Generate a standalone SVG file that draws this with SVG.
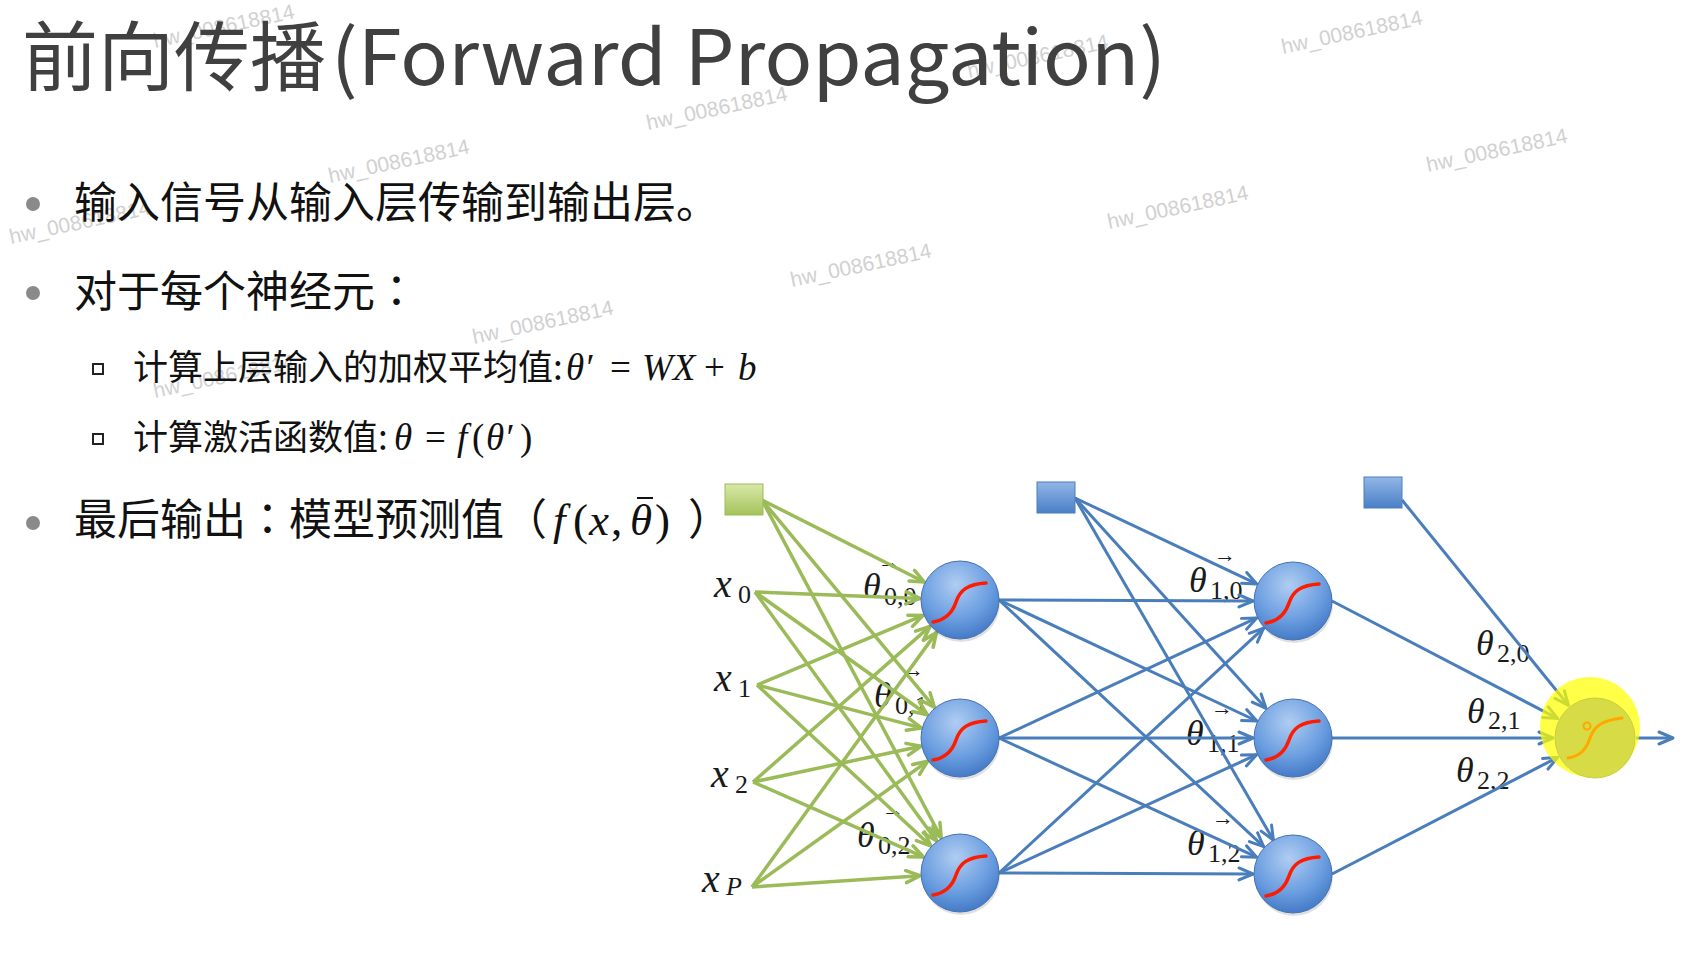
<svg xmlns="http://www.w3.org/2000/svg" width="1701" height="955" viewBox="0 0 1701 955">
<defs>
<style>
.title{font-family:"Noto Sans CJK SC","Noto Sans",sans-serif;font-size:76px;fill:#404040}
.t1{font-family:"Noto Sans CJK SC",sans-serif;font-size:43px;fill:#111}
.t2{font-family:"Noto Sans CJK SC",sans-serif;font-size:35px;fill:#111}
.col{font-family:"Noto Sans CJK TC",sans-serif}
.m{font-family:"Liberation Serif",serif;font-style:italic}
.r{font-family:"Liberation Serif",serif;font-style:normal}
.wm{font-family:"Liberation Sans",sans-serif;font-size:21px;fill:#c9c9c9;opacity:.85}
.lab{font-family:"Liberation Serif",serif;fill:#1a1a1a}
.th{font-style:italic;font-size:36px}
.xl{font-style:italic;font-size:40px}
.sub{font-size:26px}
.vec{font-size:22px}
.g{stroke:#9bbb59;stroke-width:3.5;fill:none;marker-end:url(#ahg)}
.b{stroke:#4a7ebb;stroke-width:3;fill:none;marker-end:url(#ahb)}
.neu{fill:url(#ng);stroke:#4472b0;stroke-width:1}
.sh{fill:#000;opacity:.12}
.sig{fill:none;stroke:#ff1a00;stroke-width:3.5;stroke-linecap:round}
.dot{fill:#8a8a8a}
.sq{fill:none;stroke:#222;stroke-width:2}
</style>
<radialGradient id="ng" cx="45%" cy="30%" r="75%">
<stop offset="0" stop-color="#b0cdf2"/>
<stop offset="0.6" stop-color="#6a9de0"/>
<stop offset="1" stop-color="#3d74c2"/>
</radialGradient>
<linearGradient id="gg" x1="0" y1="0" x2="0" y2="1">
<stop offset="0" stop-color="#d9e8a8"/>
<stop offset="1" stop-color="#a4c35a"/>
</linearGradient>
<linearGradient id="bg" x1="0" y1="0" x2="0" y2="1">
<stop offset="0" stop-color="#93b6e6"/>
<stop offset="1" stop-color="#4a7fc6"/>
</linearGradient>
<marker id="ahg" markerUnits="userSpaceOnUse" viewBox="0 0 18 16" refX="16" refY="8" markerWidth="18" markerHeight="16" orient="auto">
<path d="M2,2 L16,8 L2,14" fill="none" stroke="#9bbb59" stroke-width="3.5" stroke-linecap="round" stroke-linejoin="round"/>
</marker>
<marker id="ahb" markerUnits="userSpaceOnUse" viewBox="0 0 18 16" refX="16" refY="8" markerWidth="18" markerHeight="16" orient="auto">
<path d="M2,2 L16,8 L2,14" fill="none" stroke="#4a7ebb" stroke-width="3" stroke-linecap="round" stroke-linejoin="round"/>
</marker>
</defs>
<rect width="1701" height="955" fill="#fff"/>

<g id="watermarks">
<text class="wm" transform="translate(155,48) rotate(-12)">hw_008618814</text>
<text class="wm" transform="translate(648,130) rotate(-12)">hw_008618814</text>
<text class="wm" transform="translate(969,78) rotate(-12)">hw_008618814</text>
<text class="wm" transform="translate(1283,54) rotate(-12)">hw_008618814</text>
<text class="wm" transform="translate(1428,172) rotate(-12)">hw_008618814</text>
<text class="wm" transform="translate(330,183) rotate(-12)">hw_008618814</text>
<text class="wm" transform="translate(11,244) rotate(-12)">hw_008618814</text>
<text class="wm" transform="translate(1109,229) rotate(-12)">hw_008618814</text>
<text class="wm" transform="translate(792,287) rotate(-12)">hw_008618814</text>
<text class="wm" transform="translate(474,344) rotate(-12)">hw_008618814</text>
<text class="wm" transform="translate(155,398) rotate(-12)">hw_008618814</text>
</g>

<g id="title">
<text class="title" x="22" y="85">前向传播</text>
<text class="title" x="331" y="85" textLength="835" lengthAdjust="spacingAndGlyphs">(Forward Propagation)</text>
</g>

<g id="bullets">
<circle class="dot" cx="33" cy="204" r="7"/>
<text class="t1" x="74" y="218">输入信号从输入层传输到输出层。</text>
<circle class="dot" cx="33" cy="293" r="7"/>
<text class="t1" x="74" y="307">对于每个神经元<tspan class="col">：</tspan></text>
<rect class="sq" x="93" y="364" width="10" height="10"/>
<text class="t2" x="133" y="380">计算上层输入的加权平均值:<tspan class="m" x="566" font-size="37">θ′</tspan><tspan class="r" x="610" font-size="37">=</tspan><tspan class="m" x="642" font-size="37">WX</tspan><tspan class="r" x="704" font-size="37">+</tspan><tspan class="m" x="738" font-size="37">b</tspan></text>
<rect class="sq" x="93" y="434" width="10" height="10"/>
<text class="t2" x="133" y="450">计算激活函数值:<tspan class="m" x="394" font-size="37">θ</tspan><tspan class="r" x="425" font-size="37">=</tspan><tspan class="m" x="457" font-size="37">f</tspan><tspan class="r" x="472" font-size="37">(</tspan><tspan class="m" x="486" font-size="37">θ′</tspan><tspan class="r" x="520" font-size="37">)</tspan></text>
<circle class="dot" cx="33" cy="523" r="7"/>
<text class="t1" x="74" y="535">最后输出<tspan class="col">：</tspan>模型预测值（<tspan class="m" x="553" font-size="45">f</tspan><tspan class="r" x="573" font-size="45">(</tspan><tspan class="m" x="589" font-size="45">x</tspan><tspan class="r" x="611" font-size="45">,</tspan><tspan class="m" x="630" font-size="45">θ</tspan><tspan class="r" x="655" font-size="45">)</tspan><tspan x="688">）</tspan></text>
<line x1="637" y1="498" x2="653" y2="498" stroke="#111" stroke-width="2"/>
</g>

<g id="labels" class="lab">
<text class="xl m" x="714" y="597">x</text><text class="sub" x="738" y="603">0</text>
<text class="xl m" x="714" y="691">x</text><text class="sub" x="738" y="697">1</text>
<text class="xl m" x="711" y="787">x</text><text class="sub" x="735" y="793">2</text>
<text class="xl m" x="702" y="892">x</text><text class="sub m" x="726" y="895">P</text>
<text class="th" x="863" y="598">θ</text><text class="sub" x="884" y="605">0,0</text><text class="vec" x="878" y="569">→</text>
<text class="th" x="874" y="707">θ</text><text class="sub" x="895" y="714">0,1</text><text class="vec" x="902" y="677">→</text>
<text class="th" x="857" y="847">θ</text><text class="sub" x="878" y="854">0,2</text><text class="vec" x="882" y="817">→</text>
<text class="th" x="1189" y="592">θ</text><text class="sub" x="1210" y="599">1,0</text><text class="vec" x="1214" y="562">→</text>
<text class="th" x="1186" y="745">θ</text><text class="sub" x="1207" y="752">1,1</text><text class="vec" x="1211" y="715">→</text>
<text class="th" x="1187" y="855">θ</text><text class="sub" x="1208" y="862">1,2</text><text class="vec" x="1212" y="825">→</text>
<text class="th" x="1476" y="655">θ</text><text class="sub" x="1497" y="662">2,0</text>
<text class="th" x="1467" y="723">θ</text><text class="sub" x="1488" y="729">2,1</text>
<text class="th" x="1456" y="782">θ</text><text class="sub" x="1477" y="789">2,2</text>
</g>

<g id="connectors">
<line class="g" x1="762" y1="500" x2="924.3" y2="582"/>
<line class="g" x1="762" y1="500" x2="934.4" y2="707.3"/>
<line class="g" x1="762" y1="500" x2="941.2" y2="837.7"/>
<line class="g" x1="755" y1="592" x2="920" y2="598.4"/>
<line class="g" x1="755" y1="592" x2="927.4" y2="714.8"/>
<line class="g" x1="755" y1="592" x2="936.4" y2="840.7"/>
<line class="g" x1="757" y1="685" x2="923.1" y2="615.4"/>
<line class="g" x1="757" y1="685" x2="921.3" y2="727.9"/>
<line class="g" x1="757" y1="685" x2="930.7" y2="845.8"/>
<line class="g" x1="753" y1="782" x2="930" y2="626.4"/>
<line class="g" x1="753" y1="782" x2="920.9" y2="746.3"/>
<line class="g" x1="753" y1="782" x2="923.4" y2="856.9"/>
<line class="g" x1="752" y1="887" x2="936.5" y2="632.4"/>
<line class="g" x1="752" y1="887" x2="927.5" y2="761.3"/>
<line class="g" x1="752" y1="887" x2="920.1" y2="875.7"/>

<line class="b" x1="999" y1="600" x2="1253" y2="601"/>
<line class="b" x1="999" y1="600" x2="1256.8" y2="721"/>
<line class="b" x1="999" y1="600" x2="1263.7" y2="846.7"/>
<line class="b" x1="999" y1="738" x2="1256.7" y2="617.9"/>
<line class="b" x1="999" y1="738" x2="1253" y2="738"/>
<line class="b" x1="999" y1="738" x2="1256.7" y2="857.2"/>
<line class="b" x1="999" y1="873" x2="1263.6" y2="628.2"/>
<line class="b" x1="999" y1="873" x2="1256.6" y2="754.7"/>
<line class="b" x1="999" y1="873" x2="1253" y2="874"/>
<line class="b" x1="1075" y1="498" x2="1256.8" y2="583.9"/>
<line class="b" x1="1075" y1="498" x2="1266.1" y2="708.4"/>
<line class="b" x1="1075" y1="498" x2="1273.4" y2="840.2"/>

<line class="b" x1="1332" y1="601" x2="1557.8" y2="718.6"/>
<line class="b" x1="1332" y1="738" x2="1553" y2="738"/>
<line class="b" x1="1332" y1="874" x2="1557.7" y2="757.3"/>
<line class="b" x1="1402" y1="500" x2="1568.5" y2="705.4"/>
<line class="b" x1="1636" y1="738" x2="1673" y2="738"/>
</g>

<g id="bias-0"><rect x="725" y="484" width="38" height="31" fill="url(#gg)" stroke="#9bbb59" stroke-width="1"/></g>
<g id="bias-1"><rect x="1037" y="482" width="38" height="31" fill="url(#bg)" stroke="#4a7ebb" stroke-width="1"/></g>
<g id="bias-2"><rect x="1364" y="477" width="38" height="31" fill="url(#bg)" stroke="#4a7ebb" stroke-width="1"/></g>

<g id="h1-0" transform="translate(960,600)"><circle class="sh" cx="1" cy="3" r="39"/><circle class="neu" r="39"/><path class="sig" d="M-27,22 C-15,20 -8,14 -4,2 C0,-10 8,-16 26,-17"/></g>
<g id="h1-1" transform="translate(960,738)"><circle class="sh" cx="1" cy="3" r="39"/><circle class="neu" r="39"/><path class="sig" d="M-27,22 C-15,20 -8,14 -4,2 C0,-10 8,-16 26,-17"/></g>
<g id="h1-2" transform="translate(960,873)"><circle class="sh" cx="1" cy="3" r="39"/><circle class="neu" r="39"/><path class="sig" d="M-27,22 C-15,20 -8,14 -4,2 C0,-10 8,-16 26,-17"/></g>
<g id="h2-0" transform="translate(1293,601)"><circle class="sh" cx="1" cy="3" r="39"/><circle class="neu" r="39"/><path class="sig" d="M-27,22 C-15,20 -8,14 -4,2 C0,-10 8,-16 26,-17"/></g>
<g id="h2-1" transform="translate(1293,738)"><circle class="sh" cx="1" cy="3" r="39"/><circle class="neu" r="39"/><path class="sig" d="M-27,22 C-15,20 -8,14 -4,2 C0,-10 8,-16 26,-17"/></g>
<g id="h2-2" transform="translate(1293,874)"><circle class="sh" cx="1" cy="3" r="39"/><circle class="neu" r="39"/><path class="sig" d="M-27,22 C-15,20 -8,14 -4,2 C0,-10 8,-16 26,-17"/></g>

<g id="output" transform="translate(1595,738)">
<circle cx="-5" cy="-11" r="50" fill="#ffff00" opacity="0.72"/>
<circle r="40" fill="#d7dc46" stroke="#c9cf3c" stroke-width="1"/>
<path d="M-27,20 C-15,18 -9,12 -5,0 C-1,-12 8,-18 27,-20" fill="none" stroke="#ffa800" stroke-width="3" stroke-linecap="round"/>
<circle cx="-8" cy="-12" r="3.5" fill="none" stroke="#ffa800" stroke-width="2"/>
</g>
</svg>
